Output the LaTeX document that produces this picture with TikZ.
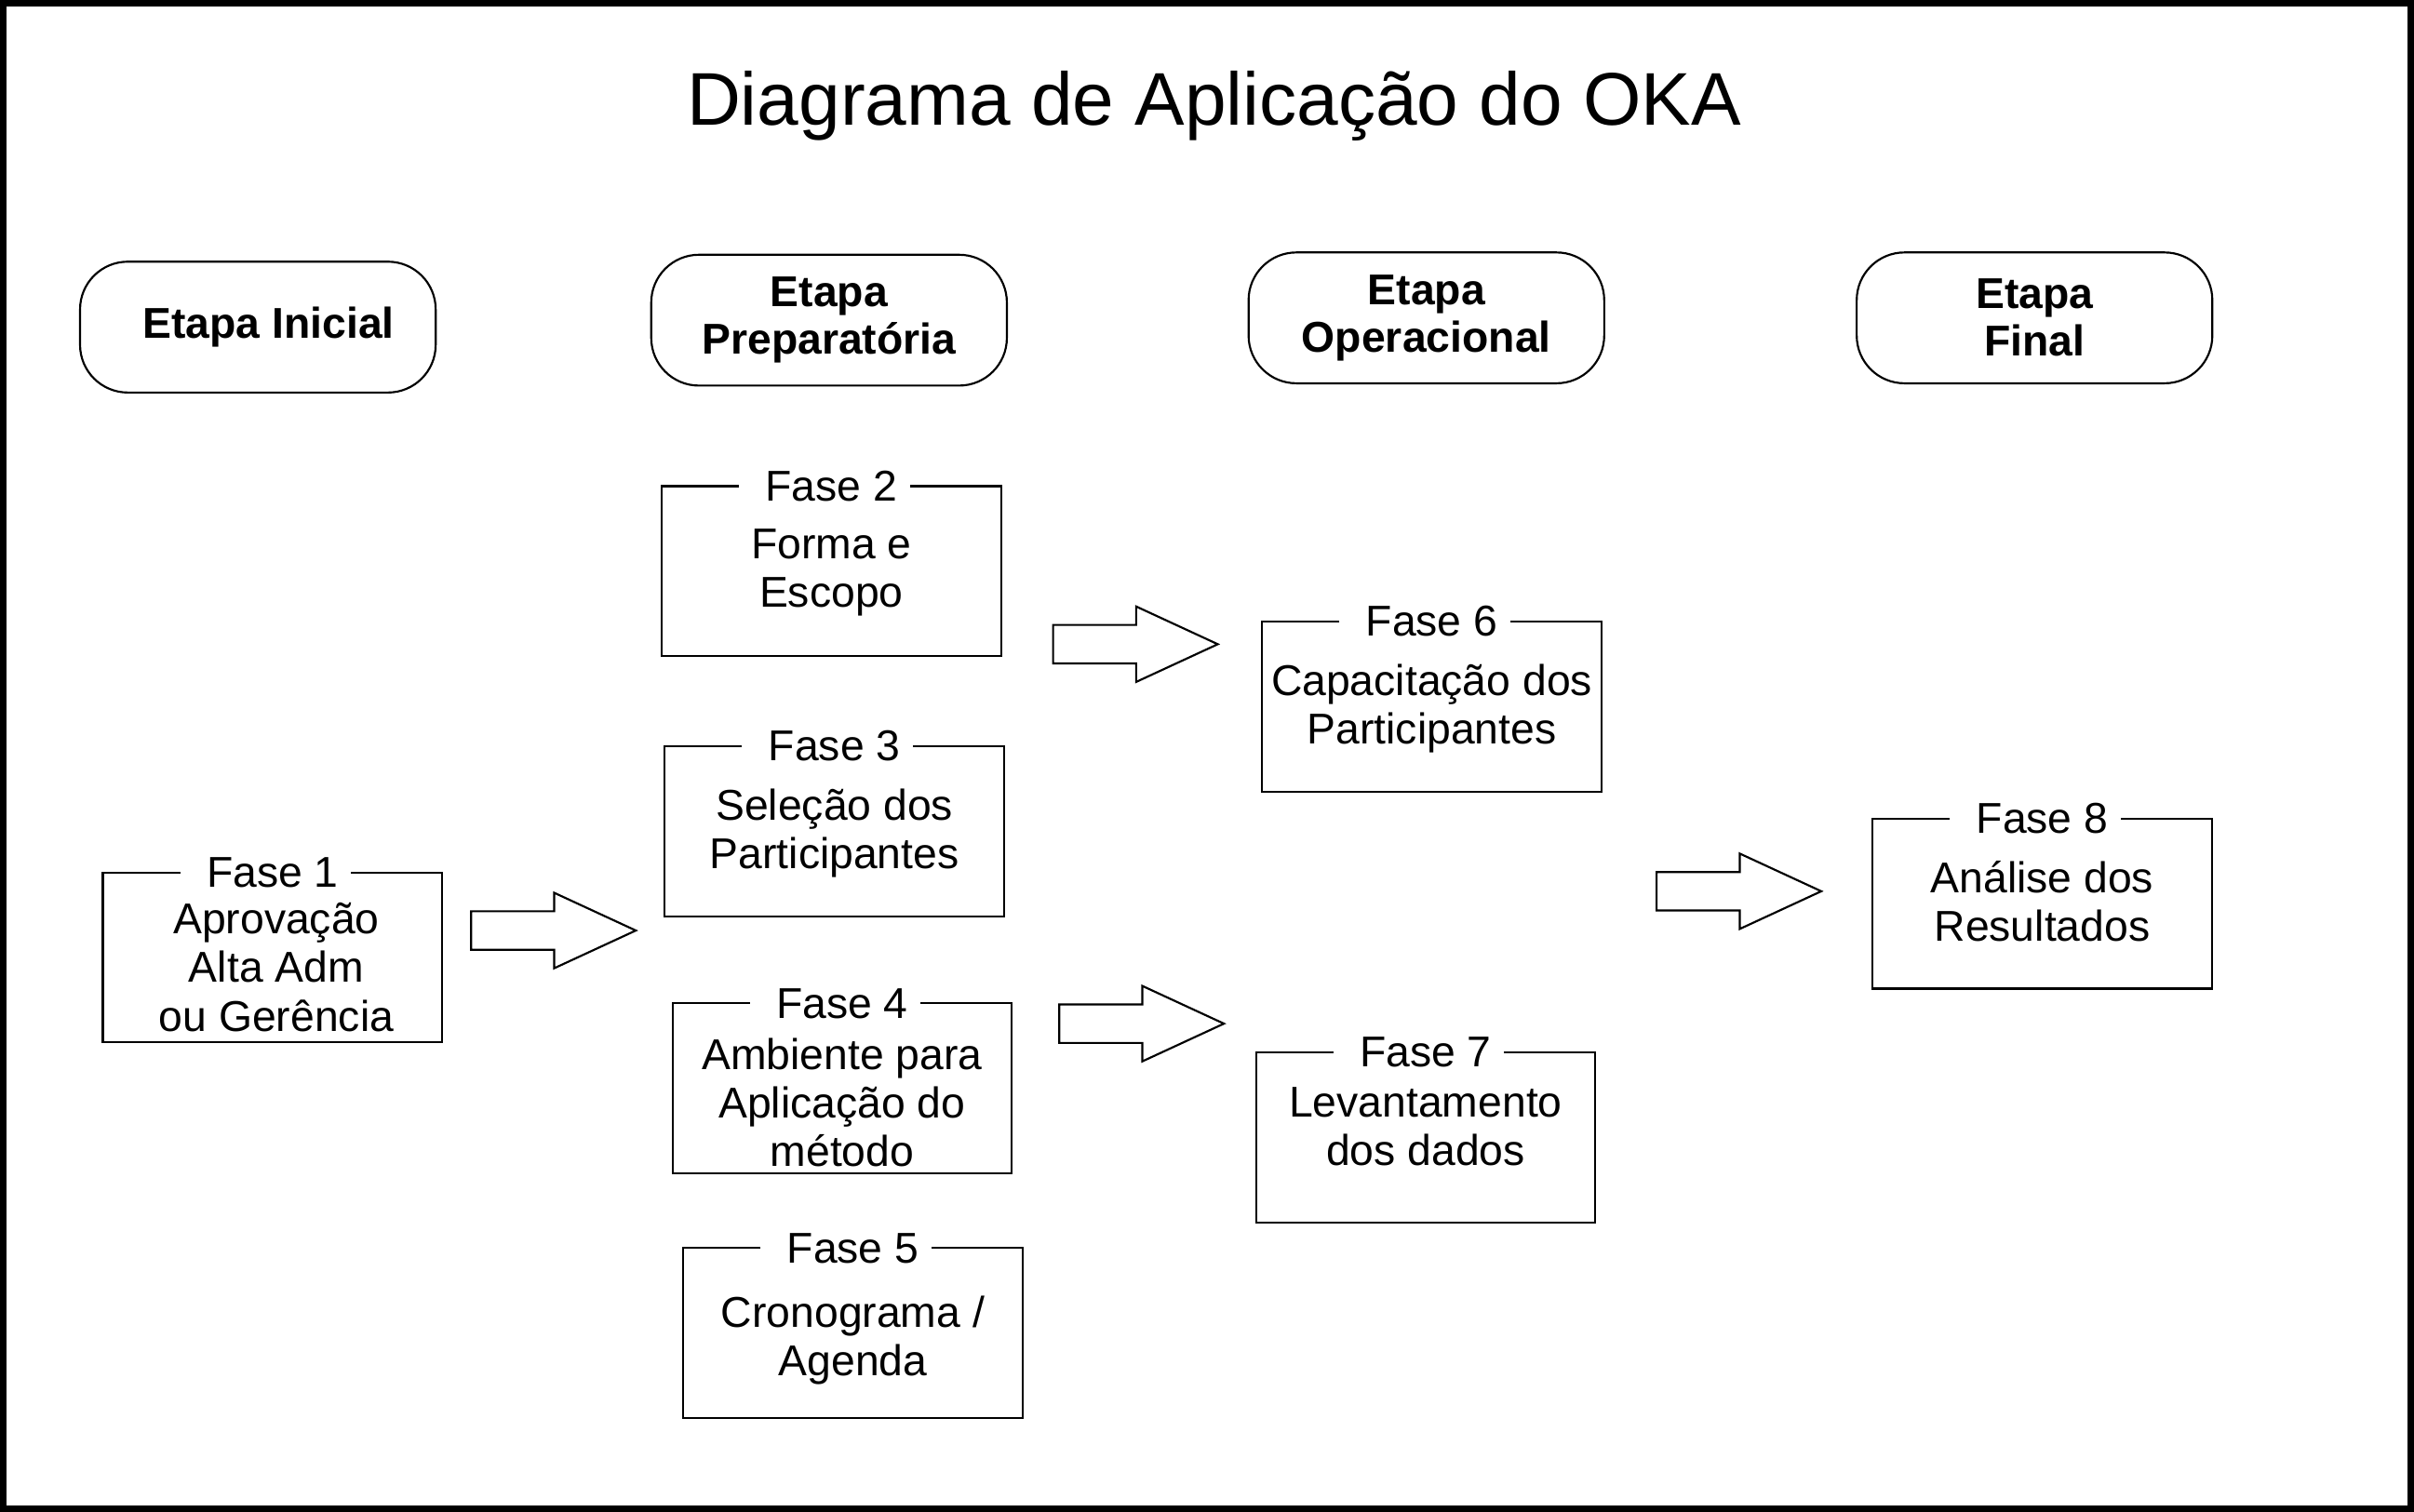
\documentclass[tikz,border=0pt]{standalone}
\usepackage{fontspec}
\setmainfont{Liberation Sans}
\begin{document}
\begin{tikzpicture}[x=1pt,y=-1pt,
  thinline/.style={line width=1.3pt,draw=black},
  etapabox/.style={thinline,rounded corners=31pt,minimum width=231pt,minimum height=85pt,inner sep=0pt,align=center,
    font=\bfseries\fontsize{28}{31}\selectfont},
  phasebox/.style={rectangle,minimum width=220pt,minimum height=110pt,inner sep=0pt},
  phasetitle/.style={inner sep=0pt,font=\fontsize{28}{31.5}\selectfont},
  phasebody/.style={inner sep=0pt,anchor=base,align=center,font=\fontsize{28}{31.5}\selectfont},
  titletext/.style={inner sep=0pt,anchor=base,font=\fontsize{48.5}{58}\selectfont},
  blockarrow/.pic={\draw[thinline] (0,-12.5) -- (54,-12.5) -- (54,-24.5) -- (107,0) -- (54,24.5) -- (54,12.5) -- (0,12.5) -- cycle;}
]
\useasboundingbox (0,0) rectangle (1568,982);
\draw[line width=4pt] (2,2) rectangle (1566,980);

% title
\node[titletext] (title) at (788.5,81) {Diagrama de Aplicação do OKA};

% etapas
\node[etapabox] (e1) at (167.5,212.5) {\hspace*{14pt}Etapa Inicial};
\node[etapabox] (e2) at (538.5,208) {Etapa\\Preparatória};
\node[etapabox] (e3) at (926.5,206.5) {Etapa\\Operacional};
\node[etapabox] (e4) at (1321.5,206.5) {Etapa\\Final};

% fases
\newcommand\okaFrame[1]{%
  \draw[thinline] ([xshift=-17pt]#1t.west) -- (#1.north west) -- (#1.south west) -- (#1.south east) -- (#1.north east) -- ([xshift=8pt]#1t.east);}

\node[phasebox] (f1) at (177,622) {};
\node[phasetitle] (f1t) at (f1.north) {Fase 1};
\node[phasebody] (f1b) at ([xshift=2.5pt,yshift=-103pt]f1.north) {Aprovação\\Alta Adm\\ou Gerência};
\okaFrame{f1}

\node[phasebox] (f2) at (540,371) {};
\node[phasetitle] (f2t) at (f2.north) {Fase 2};
\node[phasebody] (f2b) at ([yshift=-78.5pt]f2.north) {Forma e\\Escopo};
\okaFrame{f2}

\node[phasebox] (f3) at (542,540) {};
\node[phasetitle] (f3t) at (f3.north) {Fase 3};
\node[phasebody] (f3b) at ([yshift=-79.5pt]f3.north) {Seleção dos\\Participantes};
\okaFrame{f3}

\node[phasebox] (f4) at (547,707) {};
\node[phasetitle] (f4t) at (f4.north) {Fase 4};
\node[phasebody] (f4b) at ([yshift=-106pt]f4.north) {Ambiente para\\Aplicação do\\método};
\okaFrame{f4}

\node[phasebox] (f5) at (554,866) {};
\node[phasetitle] (f5t) at (f5.north) {Fase 5};
\node[phasebody] (f5b) at ([yshift=-83pt]f5.north) {Cronograma /\\Agenda};
\okaFrame{f5}

\node[phasebox] (f6) at (930,459) {};
\node[phasetitle] (f6t) at (f6.north) {Fase 6};
\node[phasebody] (f6b) at ([yshift=-79.5pt]f6.north) {Capacitação dos\\Participantes};
\okaFrame{f6}

\node[phasebox] (f7) at (926,739) {};
\node[phasetitle] (f7t) at (f7.north) {Fase 7};
\node[phasebody] (f7b) at ([yshift=-73.5pt]f7.north) {Levantamento\\dos dados};
\okaFrame{f7}

\node[phasebox] (f8) at (1326.5,587) {};
\node[phasetitle] (f8t) at (f8.north) {Fase 8};
\node[phasebody] (f8b) at ([yshift=-79.5pt]f8.north) {Análise dos\\Resultados};
\okaFrame{f8}

% block arrows
\coordinate (a1) at (306,604.5);
\coordinate (a2) at (684,418.5);
\coordinate (a3) at (688,665);
\coordinate (a4) at (1076,579);
\pic at (a1) {blockarrow};
\pic at (a2) {blockarrow};
\pic at (a3) {blockarrow};
\pic at (a4) {blockarrow};
\end{tikzpicture}
\end{document}
